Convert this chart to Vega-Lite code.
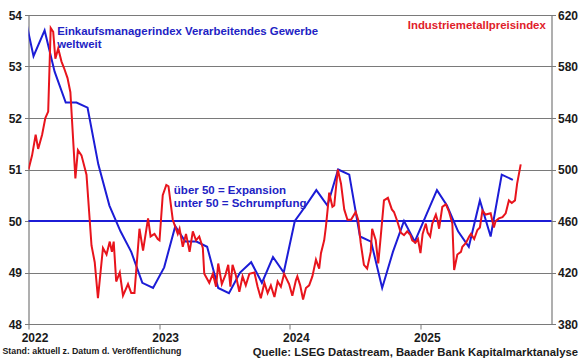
{
  "$schema": "https://vega.github.io/schema/vega-lite/v6.json",
  "width": 523,
  "height": 309,
  "autosize": {"type": "none"},
  "padding": {"left": 28.5, "top": 15, "right": 28.5, "bottom": 35},
  "background": "white",
  "config": {
    "view": {"stroke": null},
    "font": "Liberation Sans",
    "axis": {"labelFont": "Liberation Sans", "labelFontWeight": "bold", "labelFontSize": 12, "labelColor": "#1a1a1a", "domainColor": "#7a7a7a", "tickColor": "#7a7a7a", "domainWidth": 1.2, "tickWidth": 1}
  },
  "title": {
    "text": "Stand: aktuell z. Datum d. Veröffentlichung",
    "orient": "bottom",
    "anchor": "start",
    "frame": "group",
    "font": "Liberation Sans",
    "fontWeight": "bold",
    "fontSize": 8.8,
    "color": "#1a1a1a",
    "dx": -26,
    "offset": -10
  },
  "datasets": {
    "pmi": [
      {"date": "2021-12-15", "pmi": 54.2},
      {"date": "2022-01-15", "pmi": 53.2},
      {"date": "2022-02-15", "pmi": 53.7},
      {"date": "2022-03-15", "pmi": 52.9},
      {"date": "2022-04-15", "pmi": 52.3},
      {"date": "2022-05-15", "pmi": 52.3},
      {"date": "2022-06-15", "pmi": 52.2},
      {"date": "2022-07-15", "pmi": 51.1},
      {"date": "2022-08-15", "pmi": 50.3},
      {"date": "2022-09-15", "pmi": 49.8},
      {"date": "2022-10-15", "pmi": 49.4},
      {"date": "2022-11-15", "pmi": 48.8},
      {"date": "2022-12-15", "pmi": 48.7},
      {"date": "2023-01-15", "pmi": 49.1},
      {"date": "2023-02-15", "pmi": 49.9},
      {"date": "2023-03-15", "pmi": 49.6},
      {"date": "2023-04-15", "pmi": 49.6},
      {"date": "2023-05-15", "pmi": 49.5},
      {"date": "2023-06-15", "pmi": 48.7},
      {"date": "2023-07-15", "pmi": 48.6},
      {"date": "2023-08-15", "pmi": 49.0},
      {"date": "2023-09-15", "pmi": 49.2},
      {"date": "2023-10-15", "pmi": 48.8},
      {"date": "2023-11-15", "pmi": 49.3},
      {"date": "2023-12-15", "pmi": 49.0},
      {"date": "2024-01-15", "pmi": 50.0},
      {"date": "2024-02-15", "pmi": 50.3},
      {"date": "2024-03-15", "pmi": 50.6},
      {"date": "2024-04-15", "pmi": 50.3},
      {"date": "2024-05-15", "pmi": 51.0},
      {"date": "2024-06-15", "pmi": 50.9},
      {"date": "2024-07-15", "pmi": 49.7},
      {"date": "2024-08-15", "pmi": 49.6},
      {"date": "2024-09-15", "pmi": 48.7},
      {"date": "2024-10-15", "pmi": 49.4},
      {"date": "2024-11-15", "pmi": 50.0},
      {"date": "2024-12-15", "pmi": 49.6},
      {"date": "2025-01-15", "pmi": 50.1},
      {"date": "2025-02-15", "pmi": 50.6},
      {"date": "2025-03-15", "pmi": 50.3},
      {"date": "2025-04-15", "pmi": 49.8},
      {"date": "2025-05-15", "pmi": 49.5},
      {"date": "2025-06-15", "pmi": 50.4},
      {"date": "2025-07-15", "pmi": 49.7},
      {"date": "2025-08-15", "pmi": 50.9},
      {"date": "2025-09-15", "pmi": 50.8}
    ],
    "metal": [
      {"date": "2022-01-01", "idx": 500},
      {"date": "2022-01-11", "idx": 511},
      {"date": "2022-01-21", "idx": 527},
      {"date": "2022-01-28", "idx": 516},
      {"date": "2022-02-08", "idx": 527},
      {"date": "2022-02-17", "idx": 540},
      {"date": "2022-02-25", "idx": 545},
      {"date": "2022-03-04", "idx": 610},
      {"date": "2022-03-11", "idx": 607},
      {"date": "2022-03-17", "idx": 586},
      {"date": "2022-03-25", "idx": 594},
      {"date": "2022-04-03", "idx": 584},
      {"date": "2022-04-10", "idx": 579},
      {"date": "2022-04-20", "idx": 571},
      {"date": "2022-04-28", "idx": 560},
      {"date": "2022-05-12", "idx": 493},
      {"date": "2022-05-19", "idx": 515},
      {"date": "2022-05-29", "idx": 511},
      {"date": "2022-06-12", "idx": 496},
      {"date": "2022-06-26", "idx": 441},
      {"date": "2022-07-05", "idx": 428},
      {"date": "2022-07-14", "idx": 400},
      {"date": "2022-07-28", "idx": 439},
      {"date": "2022-08-07", "idx": 434},
      {"date": "2022-08-16", "idx": 444},
      {"date": "2022-08-22", "idx": 436},
      {"date": "2022-08-27", "idx": 444},
      {"date": "2022-09-03", "idx": 413},
      {"date": "2022-09-13", "idx": 420},
      {"date": "2022-09-22", "idx": 402},
      {"date": "2022-10-06", "idx": 411},
      {"date": "2022-10-15", "idx": 404},
      {"date": "2022-10-24", "idx": 404},
      {"date": "2022-11-07", "idx": 454},
      {"date": "2022-11-17", "idx": 437},
      {"date": "2022-12-01", "idx": 462},
      {"date": "2022-12-08", "idx": 448},
      {"date": "2022-12-19", "idx": 450},
      {"date": "2022-12-28", "idx": 446},
      {"date": "2023-01-02", "idx": 445},
      {"date": "2023-01-11", "idx": 480},
      {"date": "2023-01-21", "idx": 488},
      {"date": "2023-01-27", "idx": 487},
      {"date": "2023-02-08", "idx": 461},
      {"date": "2023-02-22", "idx": 450},
      {"date": "2023-02-27", "idx": 454},
      {"date": "2023-03-08", "idx": 440},
      {"date": "2023-03-17", "idx": 450},
      {"date": "2023-03-27", "idx": 436},
      {"date": "2023-04-05", "idx": 452},
      {"date": "2023-04-14", "idx": 445},
      {"date": "2023-04-23", "idx": 448},
      {"date": "2023-05-03", "idx": 439},
      {"date": "2023-05-07", "idx": 419},
      {"date": "2023-05-21", "idx": 412},
      {"date": "2023-05-31", "idx": 419},
      {"date": "2023-06-09", "idx": 409},
      {"date": "2023-06-15", "idx": 427},
      {"date": "2023-06-25", "idx": 411},
      {"date": "2023-07-05", "idx": 418},
      {"date": "2023-07-13", "idx": 426},
      {"date": "2023-07-19", "idx": 409},
      {"date": "2023-07-25", "idx": 426},
      {"date": "2023-08-03", "idx": 418},
      {"date": "2023-08-13", "idx": 405},
      {"date": "2023-08-22", "idx": 417},
      {"date": "2023-08-31", "idx": 410},
      {"date": "2023-09-10", "idx": 419},
      {"date": "2023-09-24", "idx": 420},
      {"date": "2023-10-03", "idx": 409},
      {"date": "2023-10-12", "idx": 400},
      {"date": "2023-10-22", "idx": 412},
      {"date": "2023-10-31", "idx": 404},
      {"date": "2023-11-09", "idx": 410},
      {"date": "2023-11-19", "idx": 401},
      {"date": "2023-11-28", "idx": 413},
      {"date": "2023-12-07", "idx": 409},
      {"date": "2023-12-16", "idx": 419},
      {"date": "2023-12-30", "idx": 411},
      {"date": "2024-01-08", "idx": 402},
      {"date": "2024-01-18", "idx": 414},
      {"date": "2024-01-22", "idx": 417},
      {"date": "2024-01-30", "idx": 410},
      {"date": "2024-02-07", "idx": 399},
      {"date": "2024-02-15", "idx": 408},
      {"date": "2024-02-24", "idx": 410},
      {"date": "2024-03-04", "idx": 417},
      {"date": "2024-03-14", "idx": 430},
      {"date": "2024-03-23", "idx": 423},
      {"date": "2024-03-28", "idx": 435},
      {"date": "2024-04-06", "idx": 445},
      {"date": "2024-04-11", "idx": 456},
      {"date": "2024-04-16", "idx": 470},
      {"date": "2024-04-20", "idx": 482},
      {"date": "2024-04-29", "idx": 471},
      {"date": "2024-05-04", "idx": 472},
      {"date": "2024-05-14", "idx": 500},
      {"date": "2024-05-23", "idx": 489},
      {"date": "2024-06-01", "idx": 469},
      {"date": "2024-06-10", "idx": 461},
      {"date": "2024-06-20", "idx": 461},
      {"date": "2024-07-03", "idx": 467},
      {"date": "2024-07-10", "idx": 461},
      {"date": "2024-07-17", "idx": 443},
      {"date": "2024-07-26", "idx": 426},
      {"date": "2024-08-04", "idx": 423},
      {"date": "2024-08-14", "idx": 436},
      {"date": "2024-08-18", "idx": 454},
      {"date": "2024-08-28", "idx": 445},
      {"date": "2024-09-04", "idx": 427},
      {"date": "2024-09-11", "idx": 448},
      {"date": "2024-09-20", "idx": 476},
      {"date": "2024-10-01", "idx": 478},
      {"date": "2024-10-12", "idx": 469},
      {"date": "2024-10-18", "idx": 467},
      {"date": "2024-10-27", "idx": 460},
      {"date": "2024-11-06", "idx": 451},
      {"date": "2024-11-15", "idx": 449},
      {"date": "2024-11-24", "idx": 452},
      {"date": "2024-12-03", "idx": 449},
      {"date": "2024-12-08", "idx": 445},
      {"date": "2024-12-17", "idx": 443},
      {"date": "2024-12-24", "idx": 446},
      {"date": "2024-12-31", "idx": 435},
      {"date": "2025-01-06", "idx": 450},
      {"date": "2025-01-15", "idx": 458},
      {"date": "2025-01-20", "idx": 451},
      {"date": "2025-01-27", "idx": 448},
      {"date": "2025-02-02", "idx": 458},
      {"date": "2025-02-12", "idx": 465},
      {"date": "2025-02-17", "idx": 460},
      {"date": "2025-02-21", "idx": 454},
      {"date": "2025-03-02", "idx": 471},
      {"date": "2025-03-12", "idx": 473},
      {"date": "2025-03-21", "idx": 467},
      {"date": "2025-03-30", "idx": 458},
      {"date": "2025-04-04", "idx": 422},
      {"date": "2025-04-13", "idx": 434},
      {"date": "2025-04-23", "idx": 436},
      {"date": "2025-04-27", "idx": 440},
      {"date": "2025-05-07", "idx": 443},
      {"date": "2025-05-16", "idx": 448},
      {"date": "2025-05-21", "idx": 450},
      {"date": "2025-05-30", "idx": 446},
      {"date": "2025-06-08", "idx": 453},
      {"date": "2025-06-15", "idx": 455},
      {"date": "2025-06-22", "idx": 468},
      {"date": "2025-07-01", "idx": 465},
      {"date": "2025-07-15", "idx": 466},
      {"date": "2025-07-24", "idx": 455},
      {"date": "2025-07-29", "idx": 460},
      {"date": "2025-08-07", "idx": 462},
      {"date": "2025-08-17", "idx": 463},
      {"date": "2025-08-26", "idx": 466},
      {"date": "2025-09-04", "idx": 476},
      {"date": "2025-09-12", "idx": 474},
      {"date": "2025-09-21", "idx": 476},
      {"date": "2025-09-27", "idx": 489},
      {"date": "2025-10-07", "idx": 504}
    ]
  },
  "layer": [
    {
      "layer": [
        {
          "data": {"name": "pmi"},
          "mark": {"type": "line", "color": "#1c1cd6", "strokeWidth": 2, "clip": true},
          "encoding": {
            "x": {
              "field": "date", "type": "temporal", "title": "Quelle: LSEG Datastream, Baader Bank Kapitalmarktanalyse",
              "scale": {"type": "utc", "domain": [{"year": 2022, "month": 1, "date": 1, "utc": true}, {"year": 2026, "month": 1, "date": 1, "utc": true}]},
              "axis": {
                "values": [{"year": 2022, "month": 1, "date": 1, "utc": true}, {"year": 2023, "month": 1, "date": 1, "utc": true}, {"year": 2024, "month": 1, "date": 1, "utc": true}, {"year": 2025, "month": 1, "date": 1, "utc": true}],
                "format": "%Y", "formatType": "utc", "grid": false, "tickSize": 5, "labelPadding": 3, "labelOffset": 6, "labelFlush": false,
                "titleFont": "Liberation Sans", "titleFontWeight": "bold", "titleFontSize": 11.3, "titleColor": "#1a1a1a",
                "titleAnchor": "end", "titleAlign": "right", "titleBaseline": "middle", "titleX": 549, "titleY": 28
              }
            },
            "y": {
              "field": "pmi", "type": "quantitative", "title": null,
              "scale": {"domain": [48, 54], "nice": false, "zero": false},
              "axis": {"orient": "left", "values": [48, 49, 50, 51, 52, 53, 54], "grid": true, "gridColor": "#7a7a7a", "gridWidth": 1, "tickSize": 4, "labelPadding": 3}
            }
          }
        },
        {
          "data": {"values": [{}]},
          "mark": {"type": "rule", "color": "#1c1cd6", "strokeWidth": 1.8},
          "encoding": {"y": {"datum": 50, "type": "quantitative"}}
        },
        {
          "data": {"values": [{}]},
          "mark": {"type": "text", "text": ["Einkaufsmanagerindex Verarbeitendes Gewerbe", "weltweit"], "align": "left", "baseline": "middle", "lineHeight": 13.5, "color": "#2222c4", "font": "Liberation Sans", "fontWeight": "bold", "fontSize": 11.4},
          "encoding": {
            "x": {"datum": {"year": 2022, "month": 3, "date": 22, "utc": true}, "type": "temporal"},
            "y": {"datum": 53.675, "type": "quantitative"}
          }
        },
        {
          "data": {"values": [{}]},
          "mark": {"type": "text", "text": ["über 50 = Expansion", "unter 50 = Schrumpfung"], "align": "left", "baseline": "middle", "lineHeight": 12.5, "color": "#2222c4", "font": "Liberation Sans", "fontWeight": "bold", "fontSize": 11.5},
          "encoding": {
            "x": {"datum": {"year": 2023, "month": 2, "date": 11, "utc": true}, "type": "temporal"},
            "y": {"datum": 50.578, "type": "quantitative"}
          }
        }
      ]
    },
    {
      "layer": [
        {
          "data": {"name": "metal"},
          "mark": {"type": "line", "color": "#e8141c", "strokeWidth": 2, "clip": true},
          "encoding": {
            "x": {"field": "date", "type": "temporal"},
            "y": {
              "field": "idx", "type": "quantitative", "title": null,
              "scale": {"domain": [380, 620], "nice": false, "zero": false},
              "axis": {"orient": "right", "values": [380, 420, 460, 500, 540, 580, 620], "grid": false, "tickSize": 4, "labelPadding": 2}
            }
          }
        },
        {
          "data": {"values": [{}]},
          "mark": {"type": "text", "text": "Industriemetallpreisindex", "align": "right", "baseline": "middle", "color": "#e0202a", "font": "Liberation Sans", "fontWeight": "bold", "fontSize": 11.4},
          "encoding": {
            "x": {"datum": {"year": 2025, "month": 12, "date": 16, "utc": true}, "type": "temporal"},
            "y": {"datum": 611.5, "type": "quantitative"}
          }
        }
      ]
    }
  ],
  "resolve": {"scale": {"y": "independent"}}
}
